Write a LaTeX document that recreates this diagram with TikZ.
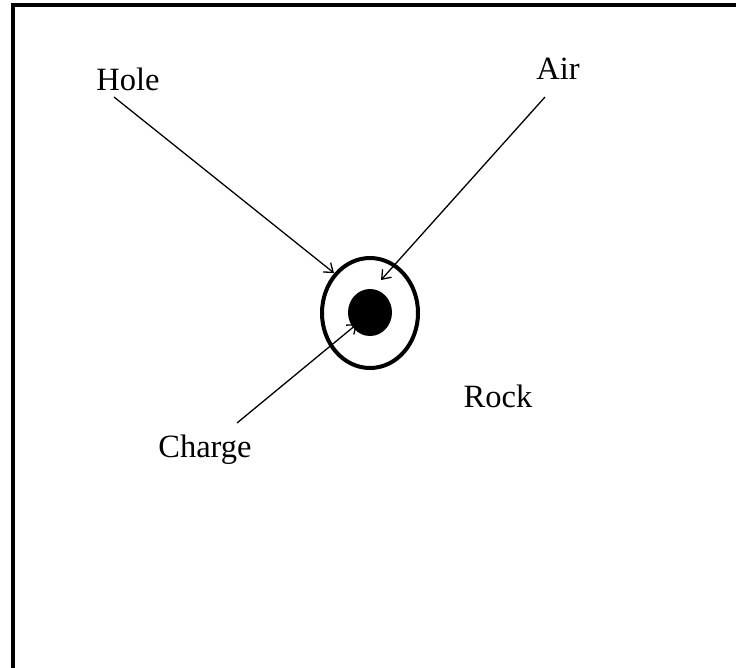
\documentclass[tikz,border=0pt]{standalone}
\usepackage{fontspec}
\setmainfont{Liberation Serif}
\usetikzlibrary{shapes.geometric,arrows.meta}
\begin{document}
\begin{tikzpicture}[x=1pt,y=-1pt,
  lbl/.style={anchor=base,inner sep=0pt,font=\fontsize{32.5}{39}\selectfont},
  ptr/.style={line width=1.3pt,-{Straight Barb[length=8pt,width=12pt,line width=1.3pt]}},
  holeshape/.style={ellipse,draw,line width=4pt,minimum width=96pt,minimum height=110pt,inner sep=0pt},
  chargeshape/.style={ellipse,fill=black,minimum width=44pt,minimum height=47pt,inner sep=0pt}]
\useasboundingbox (0,0) rectangle (736,667);
\fill[white] (0,0) rectangle (736,667);
% frame
\draw[line width=4pt] (13,670) -- (13,5) -- (740,5);
% shapes
\node[holeshape] (ring) at (370,313) {};
\node[chargeshape] (charge) at (370,312.5) {};
% labels
\node[lbl] (hole) at (128,90) {Hole};
\node[lbl] (air) at (558,79) {Air};
\node[lbl] (rock) at (498,407) {Rock};
\node[lbl] (chg) at (205,457) {Charge};
% connector ends
\coordinate (holeS) at (114,97);
\coordinate (holeE) at (334,273);
\coordinate (airS) at (545,97);
\coordinate (airE) at (381,280);
\coordinate (chgS) at (237,423);
\coordinate (chgE) at (357,324);
\draw[ptr] (holeS) -- (holeE);
\draw[ptr] (airS) -- (airE);
\draw[ptr] (chgS) -- (chgE);
\end{tikzpicture}
\end{document}
